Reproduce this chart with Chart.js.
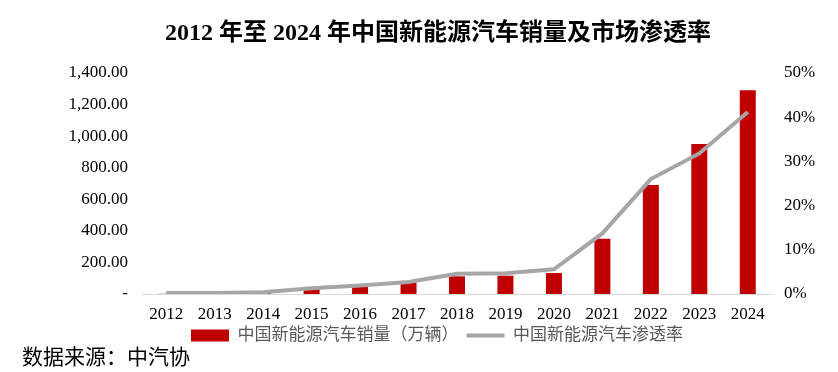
<!DOCTYPE html>
<html>
<head>
<meta charset="utf-8">
<script src="https://cdn.jsdelivr.net/npm/chart.js@4"></script>
<style>
  html, body { margin: 0; padding: 0; background: #fff; }
  #wrap { position: relative; width: 838px; height: 372px; }
  #title { position: absolute; left: 165px; top: 12px; line-height: 30px; font: bold 24px "Liberation Serif", "Noto Sans CJK SC"; color: #000; white-space: nowrap; }
  #source { position: absolute; left: 22px; top: 340px; font: 21px "Liberation Serif", "Noto Sans CJK SC"; color: #000; }
</style>
</head>
<body>
<div id="wrap">
  <canvas id="chart" width="838" height="372"></canvas>
  <div id="title">2012 年至 2024 年中国新能源汽车销量及市场渗透率</div>
  <div id="source">数据来源：中汽协</div>
</div>
<script>
// values
const years = ['2012', '2013', '2014', '2015', '2016', '2017', '2018', '2019', '2020', '2021', '2022', '2023', '2024'];
const sales = [1.3, 1.8, 7.5, 30, 45, 72, 112, 116, 133, 350, 690, 950, 1290];      // 万辆
const penetration = [0.2, 0.2, 0.4, 1.3, 1.9, 2.7, 4.6, 4.7, 5.6, 13.7, 26.0, 31.8, 41.2]; // %
const salesTicks = [0, 200, 400, 600, 800, 1000, 1200, 1400];

const serif = '"Liberation Serif", "Noto Sans CJK SC"';

const ctx = document.getElementById('chart').getContext('2d');
const chart = new Chart(ctx, {
  data: {
    labels: years,
    datasets: [
      {
        type: 'line',
        label: '中国新能源汽车渗透率',
        data: penetration,
        yAxisID: 'y2',
        borderColor: '#A6A6A6',
        borderWidth: 4,
        pointRadius: 0,
        tension: 0,
        order: 0
      },
      {
        type: 'bar',
        label: '中国新能源汽车销量（万辆）',
        data: sales,
        yAxisID: 'y',
        backgroundColor: '#C00000',
        barPercentage: 0.66,
        categoryPercentage: 0.5,
        order: 1
      }
    ]
  },
  options: {
    responsive: false,
    animation: false,
    layout: { padding: { left: 36, right: 0, top: 73, bottom: 18 } },
    plugins: {
      tooltip: { enabled: false },
      legend: {
        position: 'bottom',
        reverse: true,
        labels: {
          color: '#595959',
          font: { family: serif, size: 17 },
          usePointStyle: true,
          pointStyleWidth: 38,
          boxWidth: 38,
          boxHeight: 12,
          padding: 8,
          generateLabels: (c) => c.data.datasets.map((ds, i) => ({
            text: ds.label,
            datasetIndex: i,
            fillStyle: ds.type === 'bar' ? ds.backgroundColor : 'transparent',
            strokeStyle: ds.type === 'bar' ? ds.backgroundColor : ds.borderColor,
            lineWidth: ds.type === 'bar' ? 0 : 4,
            pointStyle: ds.type === 'bar' ? 'rect' : 'line',
            fontColor: '#595959'
          }))
        }
      }
    },
    scales: {
      x: {
        afterFit: (s) => { s.height = 25; },
        grid: { display: false, drawTicks: false },
        border: { display: true, color: '#D9D9D9', width: 1 },
        ticks: { color: '#000', font: { family: serif, size: 17 }, padding: 10, maxRotation: 0 }
      },
      y: {
        position: 'left',
        min: 0,
        max: 1400,
        afterFit: (s) => { s.width = 106; },
        afterBuildTicks: (s) => { s.ticks = salesTicks.map(v => ({ value: v })); },
        grid: { display: false, drawTicks: false },
        border: { display: false },
        ticks: {
          color: '#000',
          padding: 14,
          font: { family: serif, size: 17 },
          callback: (v) => v === 0 ? '-' : v.toLocaleString('en-US', { minimumFractionDigits: 2, maximumFractionDigits: 2 })
        }
      },
      y2: {
        position: 'right',
        min: 0,
        max: 50,
        afterFit: (s) => { s.width = 66; },
        grid: { display: false, drawTicks: false },
        border: { display: false },
        ticks: {
          stepSize: 10,
          color: '#000',
          padding: 12,
          font: { family: serif, size: 17 },
          callback: (v) => v + '%'
        }
      }
    }
  }
});
</script>
</body>
</html>
